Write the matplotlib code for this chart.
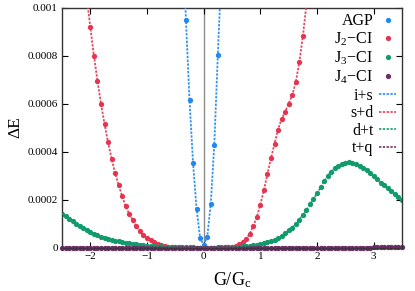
import numpy as np
import matplotlib
matplotlib.use("Agg")
import matplotlib.pyplot as plt

plt.rcParams["font.family"] = ["Liberation Serif", "DejaVu Serif"]
plt.rcParams["mathtext.fontset"] = "custom"
plt.rcParams["mathtext.rm"] = "Liberation Serif"
plt.rcParams["mathtext.it"] = "Liberation Serif:italic"

# --- data (Delta E in units of 1e-6) ---
G_STEP = 0.0625

agp_x = [-0.375, -0.3125, -0.25, -0.1875, -0.125, -0.0625, 0.0,
         0.0625, 0.125, 0.1875, 0.25, 0.3125]
agp_y = [1330, 946, 615, 353, 161, 40, 13, 43, 183, 429, 804, 1150]

j2_start = -2.0625
j2_y = [1040, 917, 800, 696, 600, 515, 439, 371, 311, 260,
        214, 172, 140, 114, 89, 69, 53, 40, 30, 22,
        15, 10, 6.5, 4.2, 2.7, 1.7, 1.1, 0.7, 0.45, 0.3,
        0.2, 0.12, 0.06, 0.03, 0.06, 0.12, 0.25, 0.45, 0.8, 1.3,
        2.2, 3.8, 7, 14, 24, 36, 58, 89, 128, 179,
        239, 307, 372, 433, 492, 536, 565, 600, 635, 689,
        772, 880, 1010]

j3_start = -2.5
j3_y = [142, 131, 120, 110, 100, 90, 81, 72, 64, 58,
        52, 46, 41, 37, 33, 29, 26, 23, 20, 17.5,
        15, 13.5, 12, 10.5, 9, 8, 7, 6, 5, 4.4,
        3.8, 3.2, 2.6, 2.2, 1.8, 1.5, 1.2, 1.0, 0.8, 0.6,
        0.5,
        0.5, 0.6, 0.7, 0.9, 1.1, 1.4, 1.8, 2.4, 3.0, 4.0,
        5.2, 6.5, 8.0, 10, 12.5, 15.5, 19, 23, 28, 34,
        41, 50, 60, 72, 84, 100, 117, 137, 157, 180,
        203, 226, 251, 276, 299, 317, 331, 341, 348, 353,
        355, 354, 349, 342, 333, 323, 311, 297, 284, 271,
        259, 247, 235, 224, 212, 200]

j4_start = -2.5
j4_y = [0.6, 0.6, 0.6, 0.5, 0.5, 0.5, 0.5, 0.5, 0.5, 0.5,
        0.4, 0.4, 0.4, 0.4, 0.4, 0.4, 0.4, 0.4, 0.3, 0.3,
        0.3, 0.3, 0.3, 0.3, 0.3, 0.3, 0.3, 0.2, 0.2, 0.2,
        0.2, 0.2, 0.2, 0.2, 0.2, 0.2, 0.2, 0.2, 0.2, 0.2,
        0.2, 0.2, 0.2, 0.2, 0.2, 0.2, 0.2, 0.2, 0.2, 0.2,
        0.2, 0.2, 0.2, 0.3, 0.3, 0.3, 0.3, 0.3, 0.3, 0.3,
        0.3, 0.4, 0.4, 0.4, 0.4, 0.4, 0.4, 0.5, 0.5, 0.5,
        0.5, 0.5, 0.6, 0.6, 0.6, 0.6, 0.6, 0.7, 0.7, 0.7,
        0.7, 0.7, 0.8, 0.8, 0.8, 0.8, 0.8, 0.8, 0.9, 0.9,
        0.9, 0.9, 0.9, 0.9, 0.9, 0.9, 0.9]

marker_labels = ["AGP", "J$_2$\u2212CI", "J$_3$\u2212CI", "J$_4$\u2212CI"]
line_labels = ["i+s", "s+d", "d+t", "t+q"]
colors = ["#1f88f2", "#e5344f", "#119b6c", "#6e2b66"]

xticks = [-2, -1, 0, 1, 2, 3]
xtick_labels = ["\u22122", "\u22121", "0", "1", "2", "3"]
yticks = [0, 0.0002, 0.0004, 0.0006, 0.0008, 0.001]
ytick_labels = ["0", "0.0002", "0.0004", "0.0006", "0.0008", "0.001"]


def grid(start, n):
    return start + G_STEP * np.arange(n)


series = [
    (np.array(agp_x), np.array(agp_y) * 1e-6),
    (grid(j2_start, len(j2_y)), np.array(j2_y) * 1e-6),
    (grid(j3_start, len(j3_y)), np.array(j3_y) * 1e-6),
    (grid(j4_start, len(j4_y)), np.array(j4_y) * 1e-6),
]

fig = plt.figure(figsize=(4.15, 2.91), dpi=100)
ax = fig.add_axes([0.1494, 0.1488, 0.8193, 0.8254])

ax.axvline(0, color="#8c8c8c", lw=1.0, zorder=1)

mk_handles = []
ln_handles = []
for i, ((x, y), c, ml, ll) in enumerate(zip(series, colors, marker_labels, line_labels)):
    # the flat J4 curve sits on the axis: keep its markers unclipped
    unclipped = (i == 3)
    mk, = ax.plot(x, y, "o", ms=3.8, mew=0, color=c, label=ml, zorder=2 + i * 0.1,
                  clip_on=not unclipped)
    ln, = ax.plot(x, y, ls=(0, (1.3, 0.8)), lw=1.3, color=c, alpha=0.9,
                  label=ll, zorder=3 + i * 0.1, clip_on=not unclipped)
    mk_handles.append(mk)
    ln_handles.append(ln)

ax.set_xlim(-2.5, 3.5)
ax.set_ylim(0, 0.001)
ax.set_xticks(xticks)
ax.set_xticklabels(xtick_labels)
ax.set_yticks(yticks)
ax.set_yticklabels(ytick_labels)
ax.tick_params(direction="in", top=True, right=True, length=4, width=0.8,
               labelsize=8, pad=3)
for s in ax.spines.values():
    s.set_linewidth(1.0)
    s.set_color("#333333")

ax.set_xlabel("G/G$_\\mathrm{c}$", fontsize=13, labelpad=7)
ax.set_ylabel("\u0394E", fontsize=12.5, labelpad=3)

ax.legend(mk_handles + ln_handles,
          marker_labels + line_labels,
          loc="upper right", markerfirst=False, frameon=False,
          fontsize=11.5, handlelength=1.1, handletextpad=0.35,
          labelspacing=0.1, borderaxespad=0.15, borderpad=0.2)

fig.savefig("out.png", dpi=100)
